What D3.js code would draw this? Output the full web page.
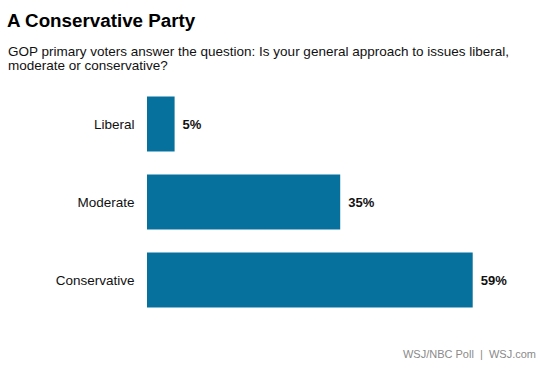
<!DOCTYPE html>
<html>
<head>
<meta charset="utf-8">
<script src="https://cdn.jsdelivr.net/npm/d3@7.9.0/dist/d3.min.js"></script>
<style>
  html, body { margin: 0; padding: 0; background: #fff; }
  svg { display: block; font-family: "Liberation Sans", Arial, sans-serif; }
</style>
</head>
<body>
<svg id="chart" width="553" height="369"></svg>
<script>
// chart data
const categories = ['Liberal', 'Moderate', 'Conservative'];
const values = [5, 35, 59];
const valueLabels = ['5%', '35%', '59%'];

const title = 'A Conservative Party';
const subtitleLines = [
    'GOP primary voters answer the question: Is your general approach to issues liberal,',
    'moderate or conservative?'
];
const source = 'WSJ/NBC Poll  |  WSJ.com';

const svg = d3.select('#chart');

// title + subtitle
svg.append('text')
    .attr('x', 7)
    .attr('y', 26.5)
    .attr('font-size', 18.8)
    .attr('font-weight', 'bold')
    .attr('fill', '#000')
    .text(title);

svg.append('g').selectAll('text')
    .data(subtitleLines)
    .join('text')
    .attr('x', 8)
    .attr('y', (d, i) => 55.5 + i * 14.5)
    .attr('font-size', 13.5)
    .attr('fill', '#111')
    .text(d => d);

// scales
const x = d3.scaleLinear().domain([0, 59]).range([147, 472.7]);
const y = d3.scaleBand()
    .domain(categories)
    .range([96.5 - 0.295 * 78 / 2, 96.5 - 0.295 * 78 / 2 + 78 * 3])
    .paddingInner(0.295)
    .paddingOuter(0.1475);

const rows = categories.map((c, i) => ({ cat: c, value: values[i], label: valueLabels[i] }));

// bars
svg.append('g').selectAll('rect')
    .data(rows)
    .join('rect')
    .attr('x', x(0))
    .attr('y', d => y(d.cat))
    .attr('width', d => x(d.value) - x(0))
    .attr('height', y.bandwidth())
    .attr('fill', '#07719e');

// category labels
svg.append('g').selectAll('text')
    .data(rows)
    .join('text')
    .attr('x', 134.5)
    .attr('y', d => y(d.cat) + y.bandwidth() / 2)
    .attr('dy', '0.35em')
    .attr('text-anchor', 'end')
    .attr('font-size', 13.5)
    .attr('fill', '#111')
    .text(d => d.cat);

// value labels
svg.append('g').selectAll('text')
    .data(rows)
    .join('text')
    .attr('x', d => x(d.value) + 8)
    .attr('y', d => y(d.cat) + y.bandwidth() / 2)
    .attr('dy', '0.35em')
    .attr('font-size', 13)
    .attr('font-weight', 'bold')
    .attr('fill', '#111')
    .text(d => d.label);

// source line
svg.append('text')
    .attr('x', 536)
    .attr('y', 358)
    .attr('text-anchor', 'end')
    .attr('font-size', 11)
    .attr('fill', '#8a8a8a')
    .style('white-space', 'pre')
    .text(source);
</script>
</body>
</html>
